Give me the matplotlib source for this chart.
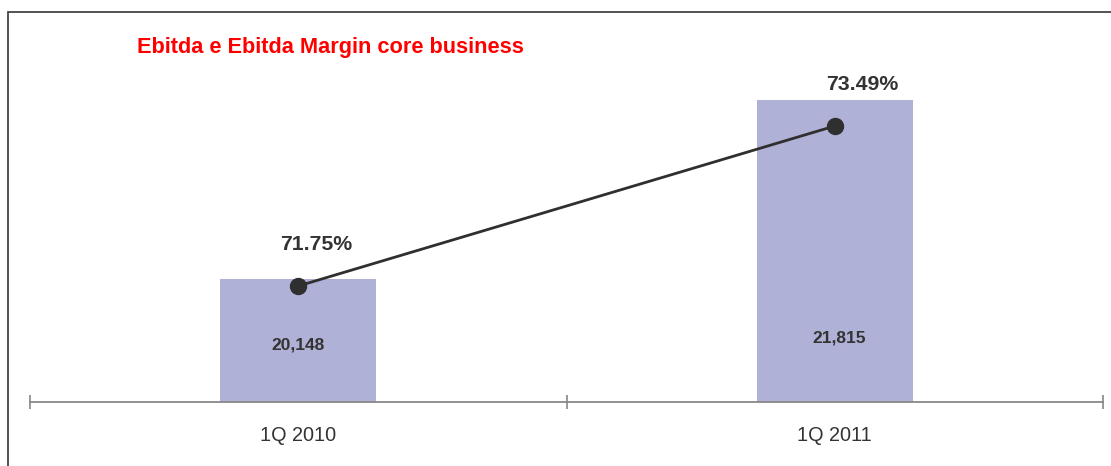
import matplotlib.pyplot as plt
from matplotlib.patches import Rectangle
from matplotlib.ticker import FixedLocator

plt.rcParams["font.family"] = ["Liberation Sans", "DejaVu Sans"]

quarters = ["1Q 2010", "1Q 2011"]
ebitda = [20148, 21815]
margin = [71.75, 73.49]

bar_color = "#b0b1d6"
text_color = "#333333"

fig = plt.figure(figsize=(11.11, 4.66), dpi=100)

# outer frame, open on the right and bottom
fig.patches.append(Rectangle((8 / 1111, -0.2), 1.2, 1.2 - 12 / 466,
                             transform=fig.transFigure, fill=False,
                             edgecolor="#444444", linewidth=1.3))

ax = fig.add_axes([30 / 1111, 64 / 466, 1073 / 1111, 382 / 466])
x = range(len(quarters))
ax.bar(x, ebitda, width=0.29, color=bar_color, zorder=2)
ax.set_xlim(-0.5, 1.5)
ax.set_ylim(19000, 22557)

for s in ["top", "right", "left"]:
    ax.spines[s].set_visible(False)
ax.spines["bottom"].set_color("#888888")
ax.spines["bottom"].set_linewidth(1.3)
ax.set_yticks([])
ax.set_xticks(list(x))
ax.set_xticklabels(quarters, fontsize=14.3, color=text_color)
ax.tick_params(axis="x", which="major", length=0, pad=17.5)
ax.xaxis.set_minor_locator(FixedLocator([-0.5, 0.5, 1.5]))
ax.tick_params(axis="x", which="minor", direction="inout", length=10,
               width=1.2, color="#888888")

# value labels sit a fixed distance above the baseline (points)
label_offsets = [(0, 41), (3, 46)]
for i, v in enumerate(ebitda):
    ax.annotate(f"{v:,}", xy=(i, 19000), xytext=label_offsets[i],
                textcoords="offset points", ha="center", va="center",
                fontsize=12.5, fontweight="bold", color=text_color)

ax2 = ax.twinx()
ax2.set_ylim(70.4885, 74.643)
ax2.plot(list(x), margin, color="#2f2f2f", linewidth=2.0, marker="o",
         markersize=11.5, zorder=3)
ax2.set_axis_off()
pct_offsets = [(13, 30), (20, 30)]
for i, m in enumerate(margin):
    ax2.annotate(f"{m:.2f}%", xy=(i, m), xytext=pct_offsets[i],
                 textcoords="offset points", ha="center", va="center",
                 fontsize=15.3, fontweight="bold", color=text_color)

fig.text(137 / 1111, 1 - 48 / 466, "Ebitda e Ebitda Margin core business",
         color="#ff0000", fontsize=15.7, fontweight="bold", va="center", ha="left")

fig.savefig("out.png", dpi=100)
